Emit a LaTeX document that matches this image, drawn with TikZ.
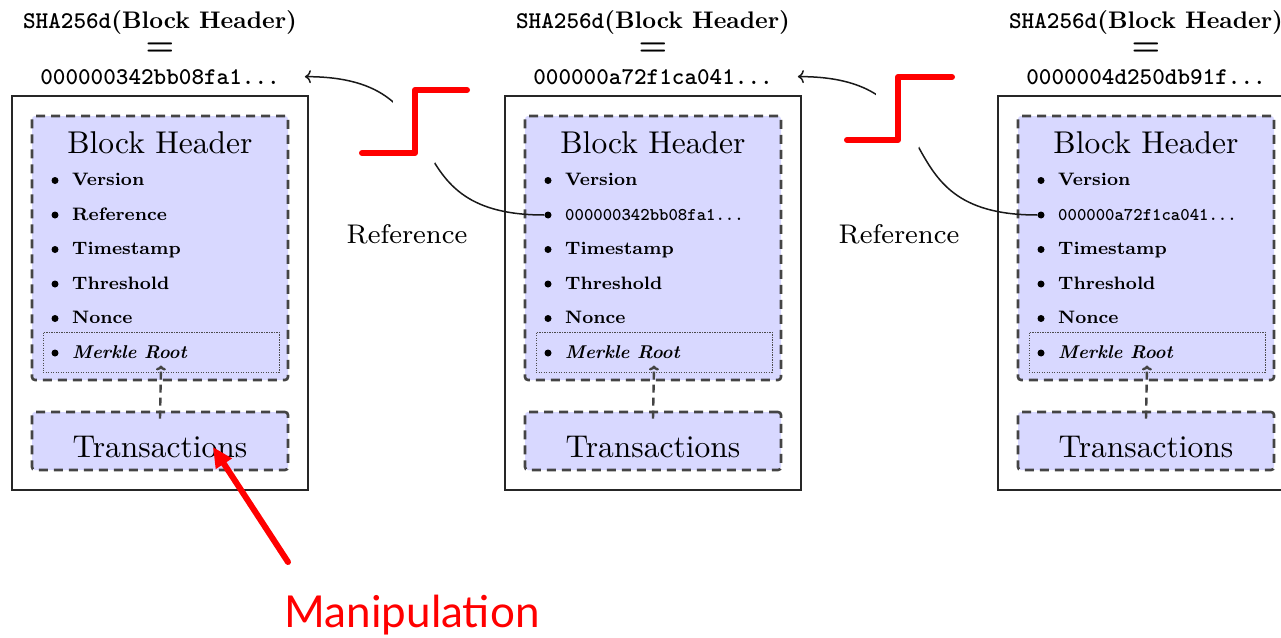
\documentclass[tikz,border=0pt]{standalone}
\usepackage{graphicx}
\usepackage{fontspec}
\newfontfamily\annofont{Lato}
\usetikzlibrary{arrows.meta}

% fixed optical sizes of Latin Modern
\font\fTitle="[lmroman10-regular]" at 31.5pt
\font\fLabel="[lmroman8-regular]" at 27pt
\font\fItem="[lmroman8-bold]" at 18pt
\font\fItemIt="[lmroman10-bolditalic]" at 18.5pt
\font\fItemTT="[lmmonolt10-bold]" at 17.9pt
\font\fShaRm="[lmroman10-bold]" at 24pt
\font\fShaTT="[lmmonolt10-bold]" at 24pt
\font\fEq="[lmroman10-bold]" at 32pt

\definecolor{hdrfill}{RGB}{216,216,255}
\definecolor{dashgray}{RGB}{68,68,68}
\definecolor{alertred}{RGB}{255,0,0}

\tikzset{
  outerbox/.style={draw=black!85, line width=1.8pt, minimum width=296pt,
    minimum height=394pt, inner sep=0pt},
  hdrbox/.style={draw=dashgray, fill=hdrfill, line width=2.6pt,
    dash pattern=on 9pt off 6pt, rounded corners=3pt, inner sep=0pt,
    minimum width=256pt},
  merklebox/.style={draw=black!70, line width=1pt, dash pattern=on 1.2pt off 1.3pt,
    minimum width=236pt, minimum height=40pt, inner sep=0pt},
  dot/.style={circle, fill=black, inner sep=0pt, minimum size=7pt},
  item/.style={anchor=base west, inner sep=0pt, font=\fItem},
  merklelink/.style={draw=dashgray, line width=2.4pt, dash pattern=on 8pt off 5pt,
    -{To[length=5pt,width=10pt]}},
  reflink/.style={draw=black!90, line width=1.5pt, -{To[length=6pt,width=13pt]}},
  halo/.style={draw=white, line width=44pt, line cap=round, line join=round},
  redstep/.style={draw=alertred, line width=6pt, line cap=round, line join=round},
  alertarrow/.style={draw=alertred, line width=6pt, line cap=round,
    -{Triangle[length=20pt,width=18pt]}},
}

% one block of the chain: #1 name, #2 centre x, #3 hash, #4 second header entry
\newcommand\chainblock[4]{%
  \begin{scope}[shift={(#2,0)}]
    \node[outerbox] (#1-blk) at (0,293) {};
    \node[hdrbox, minimum height=264pt] (#1-hdr) at (0,248) {};
    \node[hdrbox, minimum height=58pt] (#1-txb) at (0,441) {};
    \node[merklebox] (#1-mrk) at (1,352) {};
    \node[anchor=base, font=\fTitle] (#1-ttl) at (0,153) {Block Header};
    \node[anchor=base, font=\fTitle] (#1-txt) at (0,457) {Transactions};
    \node[dot] (#1-d1) at (-105,180.5) {};
    \node[item] (#1-i1) at (-88,185.5) {Version};
    \node[dot] (#1-d2) at (-105,215) {};
    \node[item] (#1-i2) at (-88,220) {#4};
    \node[dot] (#1-d3) at (-105,249.5) {};
    \node[item] (#1-i3) at (-88,254.5) {Timestamp};
    \node[dot] (#1-d4) at (-105,284) {};
    \node[item] (#1-i4) at (-88,289) {Threshold};
    \node[dot] (#1-d5) at (-105,318.5) {};
    \node[item] (#1-i5) at (-88,323.5) {Nonce};
    \node[dot] (#1-d6) at (-105,353) {};
    \node[item, font=\fItemIt] (#1-i6) at (-88,358) {Merkle Root};
    \node[anchor=base, inner sep=0pt] (#1-sha) at (0,28.5)
      {{\fShaTT SHA256d}{\fShaRm(Block Header)}};
    \node[font=\fEq, inner sep=0pt] (#1-eq) at (0,49) {=};
    \node[anchor=base, font=\fShaTT, inner sep=0pt] (#1-hash) at (0,84) {#3};
    \draw[merklelink] ([yshift=-8pt]#1-txb.north) -- ([yshift=7pt]#1-mrk.south);
  \end{scope}}

\begin{document}
\begin{tikzpicture}[x=1pt, y=-1pt]
  \useasboundingbox (0,0) rectangle (1281,637);
  \clip (0,0) rectangle (1281,637);

  \chainblock{a}{160}{000000342bb08fa1...}{Reference}
  \chainblock{b}{653}{000000a72f1ca041...}{{\fItemTT 000000342bb08fa1...}}
  \chainblock{c}{1146}{0000004d250db91f...}{{\fItemTT 000000a72f1ca041...}}

  % back references from each header to the previous hash
  \draw[reflink] (b-d2) to[out=180, in=0, looseness=1.5] ([xshift=25pt]a-hash.east);
  \draw[reflink] (c-d2) to[out=180, in=0, looseness=1.5] ([xshift=25pt]b-hash.east);

  \node[font=\fLabel, anchor=base] (ref-ab) at (407,243) {Reference};
  \node[font=\fLabel, anchor=base] (ref-bc) at (899,243) {Reference};

  % broken links
  \draw[halo] (362,153) -- (415,153) -- (415,90) -- (467,90);
  \draw[redstep] (362,153) -- (415,153) -- (415,90) -- (467,90);
  \draw[halo] (847,140) -- (898,140) -- (898,77) -- (952,77);
  \draw[redstep] (847,140) -- (898,140) -- (898,77) -- (952,77);

  % tampering note
  \node[font=\annofont\fontsize{44}{50}\selectfont, text=alertred, anchor=base]
    (manip) at (412,627) {Manipulation};
  \coordinate (manip-tail) at (288,562);
  \coordinate (manip-tip) at (213,447);
  \draw[alertarrow] (manip-tail) -- (manip-tip);
\end{tikzpicture}
\end{document}
